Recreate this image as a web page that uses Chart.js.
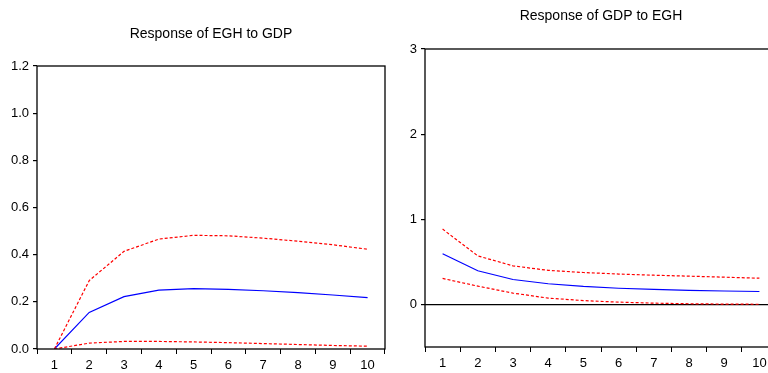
<!DOCTYPE html>
<html>
<head>
<meta charset="utf-8">
<script src="https://cdn.jsdelivr.net/npm/chart.js@4.4.1/dist/chart.umd.min.js"></script>
<style>
html,body{margin:0;padding:0;background:#fff;width:768px;height:373px;overflow:hidden;position:relative;}
.painel{position:absolute;top:0;height:373px;}
#p1{left:0;width:390px;}
#p2{left:390px;width:400px;}
</style>
</head>
<body>
<div class="painel" id="p1"><canvas id="g1"></canvas></div>
<div class="painel" id="p2"><canvas id="g2"></canvas></div>
<script>
const periodos=['1','2','3','4','5','6','7','8','9','10'];
// Response of EGH to GDP
const eghResp=[0,0.155,0.222,0.250,0.256,0.253,0.247,0.239,0.229,0.218];
const eghSup=[0,0.290,0.414,0.466,0.482,0.480,0.470,0.457,0.442,0.423];
const eghInf=[0,0.025,0.032,0.032,0.030,0.027,0.023,0.019,0.015,0.012];
// Response of GDP to EGH
const gdpResp=[0.595,0.395,0.293,0.243,0.211,0.190,0.177,0.166,0.158,0.152];
const gdpSup=[0.885,0.570,0.453,0.400,0.375,0.357,0.343,0.332,0.320,0.308];
const gdpInf=[0.305,0.215,0.133,0.074,0.045,0.027,0.015,0.008,0.004,0.002];
const ticksEsq=[0,0.2,0.4,0.6,0.8,1.0,1.2];
const ticksDir=[0,1,2,3];

const FONTE='"Liberation Sans Narrow","Arial Narrow","Liberation Sans",Arial,sans-serif';

// moldura da area do grafico + titulo centrado sobre ela
const moldura={id:'moldura',afterDraw(ch,args,o){
  const a=ch.chartArea,c=ch.ctx;
  c.save();c.strokeStyle='#000';c.lineWidth=1.3;
  c.strokeRect(a.left,a.top,a.right-a.left,a.bottom-a.top);
  c.fillStyle='#000';c.font='14px '+FONTE;c.textAlign='center';c.textBaseline='middle';
  c.fillText(o.texto,(a.left+a.right)/2,o.y);
  c.restore();
}};

function series(resp,sup,inf){
  const base={pointRadius:0,borderWidth:1.2,tension:0,fill:false};
  return [
    Object.assign({label:'sup',data:sup,borderColor:'#ff0000',borderDash:[3,2]},base),
    Object.assign({label:'resp',data:resp,borderColor:'#0000ff'},base),
    Object.assign({label:'inf',data:inf,borderColor:'#ff0000',borderDash:[3,2]},base)
  ];
}

function criarGrafico(id,titulo,cfg){
  return new Chart(document.getElementById(id),{
    type:'line',
    data:{labels:periodos,datasets:series(cfg.resp,cfg.sup,cfg.inf)},
    options:{
      responsive:true,maintainAspectRatio:false,animation:false,
      layout:{padding:{left:0,right:cfg.padDir,top:cfg.topo,bottom:0}},
      plugins:{
        legend:{display:false},tooltip:{enabled:false},title:{display:false},
        moldura:{texto:titulo,y:cfg.yTit}
      },
      scales:{
        x:{offset:true,
          grid:{offset:true,drawOnChartArea:false,drawTicks:true,tickLength:5,color:'#000',lineWidth:1},
          border:{display:false},
          ticks:{color:'#000',font:{family:FONTE,size:13},padding:4,maxRotation:0,autoSkip:false},
          afterFit(s){s.height=cfg.altX;}},
        y:{min:cfg.min,max:cfg.max,
          afterBuildTicks(s){s.ticks=cfg.ticks.map(v=>({value:v}));},
          grid:{drawTicks:true,tickLength:4,drawOnChartArea:true,
            color:(c)=>(cfg.zero&&c.tick&&c.tick.value===0)?'#000':'rgba(0,0,0,0)',
            tickColor:'#000',lineWidth:1.2},
          border:{display:false},
          ticks:{color:'#000',font:{family:FONTE,size:13},padding:4,callback:cfg.fmt},
          afterFit(s){s.width=cfg.largY;}}
      }
    },
    plugins:[moldura]
  });
}

criarGrafico('g1','Response of EGH to GDP',{
  resp:eghResp,sup:eghSup,inf:eghInf,min:0,max:1.2,ticks:ticksEsq,zero:false,
  fmt:(v)=>v.toFixed(1),topo:66,yTit:34,altX:24,largY:37,padDir:5
});
criarGrafico('g2','Response of GDP to EGH',{
  resp:gdpResp,sup:gdpSup,inf:gdpInf,min:-0.5,max:3,ticks:ticksDir,zero:true,
  fmt:(v)=>String(v),topo:49,yTit:16,altX:26,largY:35,padDir:13
});
</script>
</body>
</html>
